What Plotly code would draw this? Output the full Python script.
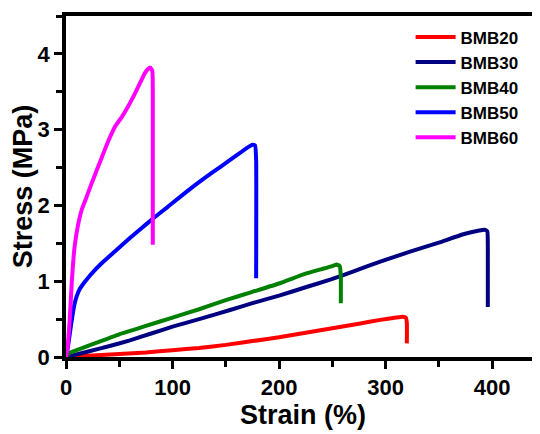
import plotly.graph_objects as go

# BMB20
strain_20 = [0, 10, 25, 50, 75, 100, 125, 150, 175, 200, 225, 250, 275, 295, 310, 316, 319, 320, 320]
stress_20 = [0, 0.01, 0.02, 0.04, 0.06, 0.09, 0.12, 0.16, 0.21, 0.26, 0.32, 0.38, 0.44, 0.49, 0.52, 0.53, 0.52, 0.45, 0.18]
# BMB30
strain_30 = [0, 20, 41, 60, 80, 100, 125, 154, 175, 200, 225, 248, 270, 295, 323, 350, 373, 388, 393, 395.5, 396, 396]
stress_30 = [0, 0.07, 0.145, 0.22, 0.31, 0.40, 0.50, 0.62, 0.71, 0.81, 0.92, 1.02, 1.13, 1.26, 1.39, 1.51, 1.62, 1.67, 1.68, 1.66, 1.5, 0.66]
# BMB40
strain_40 = [0, 3, 10, 25, 50, 75, 100, 125, 150, 175, 200, 225, 240, 250, 254, 257, 258, 258]
stress_40 = [0, 0.05, 0.09, 0.17, 0.30, 0.41, 0.52, 0.63, 0.75, 0.86, 0.97, 1.10, 1.16, 1.20, 1.22, 1.20, 1.05, 0.71]
# BMB50
strain_50 = [0, 2, 4, 6, 8, 10, 13, 17, 21, 26, 33, 40, 50, 60, 70, 82, 95, 113, 130, 145, 160, 170, 175, 177.5, 178.5, 178.5]
stress_50 = [0, 0.15, 0.35, 0.54, 0.70, 0.80, 0.90, 0.98, 1.05, 1.13, 1.23, 1.32, 1.445, 1.57, 1.69, 1.83, 1.975, 2.18, 2.36, 2.51, 2.66, 2.76, 2.80, 2.79, 2.6, 1.04]
# BMB60
strain_60 = [0, 1.5, 2.5, 3.5, 4.5, 5.5, 7, 8.5, 11, 14.7, 19, 24, 29, 33.5, 40, 46, 52, 58, 64.8, 70, 74.2, 77, 79, 81, 81.5, 81.5]
stress_60 = [0, 0.12, 0.3, 0.5, 0.75, 1.0, 1.3, 1.5, 1.72, 1.94, 2.1, 2.29, 2.47, 2.63, 2.86, 3.04, 3.16, 3.30, 3.48, 3.63, 3.75, 3.80, 3.82, 3.78, 3.5, 1.48]

names = ["BMB20", "BMB30", "BMB40", "BMB50", "BMB60"]
colors = ["#FF0000", "#000080", "#008000", "#0000FF", "#FF00FF"]
xs = [strain_20, strain_30, strain_40, strain_50, strain_60]
ys = [stress_20, stress_30, stress_40, stress_50, stress_60]

x_ticks = [0, 100, 200, 300, 400]
y_ticks = [0, 1, 2, 3, 4]

FONT = "Arial, Liberation Sans, sans-serif"

fig = go.Figure()
for n, c, x, y in zip(names, colors, xs, ys):
    fig.add_trace(go.Scatter(x=x, y=y, mode="lines", name=n, legendgroup=n,
                             line=dict(color=c, width=4, shape="spline", smoothing=0.4)))

axis_common = dict(
    showline=True, linecolor="black", linewidth=3.5,
    ticks="outside", tickwidth=3, ticklen=8, tickcolor="black",
    showgrid=False, zeroline=False, automargin=False,
    tickfont=dict(family=FONT, size=22, color="black", weight="bold"),
)

fig.update_xaxes(
    range=[0, 445], tickvals=x_ticks, mirror=True,
    minor=dict(ticks="outside", dtick=50, ticklen=6, tickwidth=3, tickcolor="black"),
    title=dict(text="<b>Strain (%)</b>", font=dict(family=FONT, size=27, color="black"), standoff=4),
    **axis_common,
)
fig.update_yaxes(
    range=[0, 4.5], tickvals=y_ticks, mirror=False,
    minor=dict(ticks="outside", dtick=0.5, ticklen=6, tickwidth=3, tickcolor="black"),
    title=dict(text="<b>Stress (MPa)</b>", font=dict(family=FONT, size=27, color="black"), standoff=8),
    **axis_common,
)

fig.update_layout(
    width=532, height=426,
    margin=dict(l=58, r=0, t=8, b=77),
    plot_bgcolor="white", paper_bgcolor="white",
    showlegend=True,
    legend=dict(x=0.727, y=0.99, xanchor="left", yanchor="top",
                font=dict(family=FONT, size=17, color="black", weight="bold"),
                bgcolor="rgba(0,0,0,0)", tracegroupgap=0, itemwidth=40),
)

fig.write_html("out.html")
